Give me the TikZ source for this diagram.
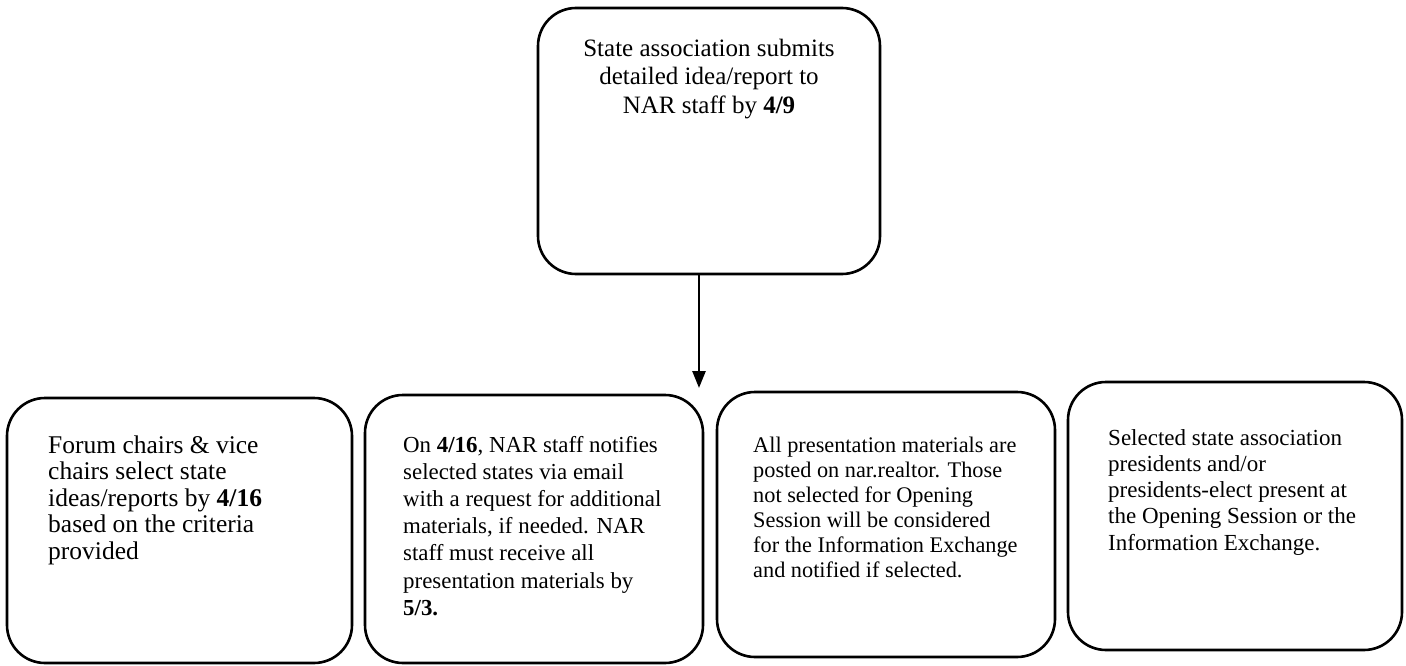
\documentclass[tikz,border=0pt]{standalone}
\usepackage{fontspec}
\setmainfont{Liberation Serif}
\usetikzlibrary{arrows.meta}
\tikzset{
  box/.style={draw, line width=2.6pt, rounded corners=38pt, inner sep=0pt},
  txt/.style={inner sep=0pt, anchor=base west, align=left},
  flow/.style={line width=2.6pt, -{Triangle[length=17pt,width=13pt]}}
}
\begin{document}
\begin{tikzpicture}[x=1pt,y=-1pt]
\useasboundingbox (0,0) rectangle (1406,666);
% boxes
\node[box, minimum width=342pt, minimum height=266pt] (top) at (709,141) {};
\node[box, minimum width=345pt, minimum height=265pt] (b1) at (179.5,530.5) {};
\node[box, minimum width=338pt, minimum height=268pt] (b2) at (534,529) {};
\node[box, minimum width=338pt, minimum height=265pt] (b3) at (886,524.5) {};
\node[box, minimum width=334pt, minimum height=268pt] (b4) at (1235,516) {};
% texts (base anchor = baseline of the last line)
\node[inner sep=0pt, anchor=base, align=center, font=\fontsize{25}{29}\selectfont] (topt) at (709,114)
  {State association submits\\detailed idea/report to\\NAR staff by \textbf{4/9}};
\node[txt, font=\fontsize{25.5}{26.5}\selectfont] (b1t) at (48,559)
  {Forum chairs \& vice\\chairs select state\\ideas/reports by \textbf{4/16}\\based on the criteria\\provided};
\node[txt, font=\fontsize{22.9}{27.2}\selectfont] (b2t) at (403,615.2)
  {On \textbf{4/16}, NAR staff notifies\\selected states via email\\with a request for additional\\materials, if needed. NAR\\staff must receive all\\presentation materials by\\\textbf{5/3.}};
\node[txt, font=\fontsize{22.3}{25}\selectfont] (b3t) at (753,577)
  {All presentation materials are\\posted on nar.realtor. Those\\not selected for Opening\\Session will be considered\\for the Information Exchange\\and notified if selected.};
\node[txt, font=\fontsize{23}{26.3}\selectfont] (b4t) at (1108,550.2)
  {Selected state association\\presidents and/or\\presidents-elect present at\\the Opening Session or the\\Information Exchange.};
% connector
\coordinate (tip) at (699,388);
\draw[flow] (top.south -| tip) -- (tip);
\end{tikzpicture}
\end{document}
